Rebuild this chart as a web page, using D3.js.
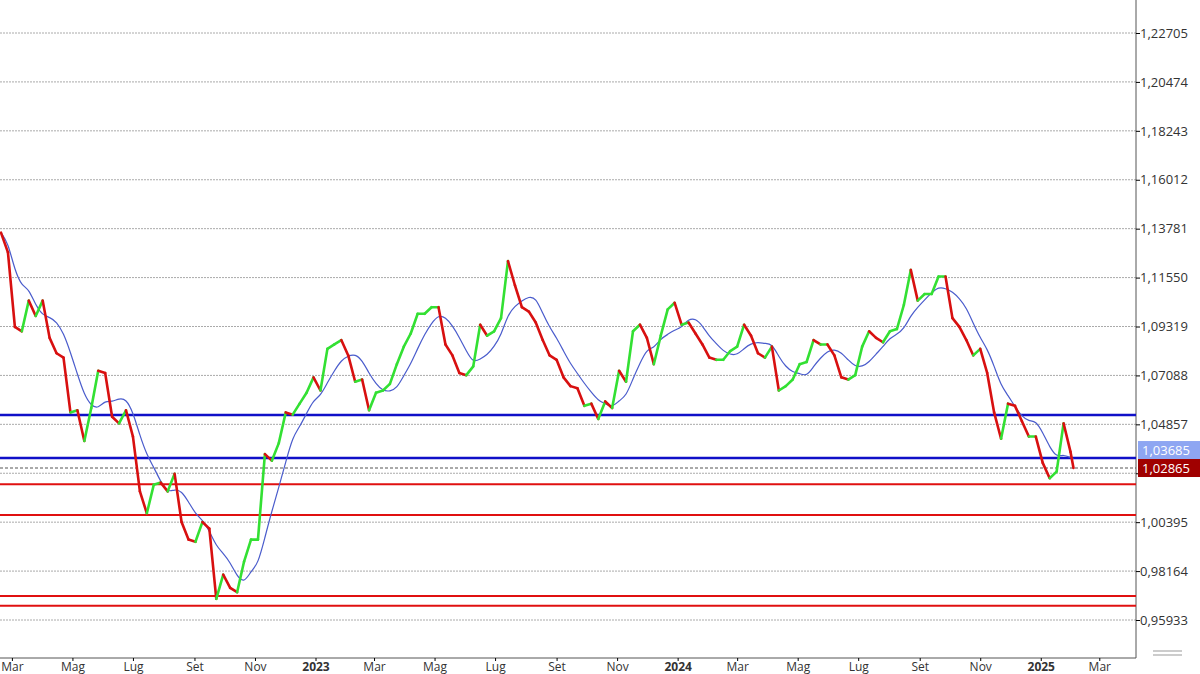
<!DOCTYPE html><html><head><meta charset="utf-8">
<script src="https://cdn.jsdelivr.net/npm/d3@7"></script>
<style>body{margin:0;background:#fff}text{font-family:"Open Sans",sans-serif}</style></head><body>
<svg id="c" width="1200" height="674"></svg>
<script>
const startDate="2022-02-18";
const closes=[1.136,1.127,1.093,1.091,1.105,1.098,1.105,1.088,1.081,1.079,1.054,1.055,1.041,1.056,1.073,1.072,1.052,1.049,1.055,1.043,1.018,1.008,1.021,1.022,1.018,1.026,1.004,0.996,0.995,1.004,1.001,0.969,0.980,0.974,0.972,0.986,0.996,0.996,1.035,1.032,1.040,1.054,1.053,1.058,1.063,1.070,
1.064,1.083,1.085,1.087,1.080,1.068,1.069,1.055,1.063,1.064,1.067,1.076,1.084,1.090,1.099,1.099,1.102,1.102,1.085,1.080,1.072,1.071,1.075,1.094,1.089,1.091,1.097,1.123,1.112,1.102,1.100,1.095,1.087,1.080,1.078,1.070,1.066,1.065,1.057,1.058,1.051,1.059,1.056,1.073,1.068,1.091,1.094,1.088,1.076,1.089,1.101,1.104,
1.094,1.095,1.090,1.085,1.079,1.078,1.078,1.082,1.084,1.094,1.089,1.081,1.079,1.084,1.064,1.066,1.069,1.076,1.077,1.087,1.085,1.085,1.080,1.070,1.069,1.071,1.084,1.091,1.088,1.086,1.091,1.092,1.103,1.119,1.105,1.108,1.108,1.116,1.116,1.097,1.093,1.087,1.080,1.083,1.072,1.054,1.042,1.058,1.057,1.050,1.043,1.043,
1.031,1.024,1.027,1.049,1.036,1.02865];
const yTicks=[0.95933,0.98164,1.00395,1.02626,1.04857,1.07088,1.09319,1.11550,1.13781,1.16012,1.18243,1.20474,1.22705];
const xTicks=[["2022-03-01","Mar"],["2022-05-01","Mag"],["2022-07-01","Lug"],["2022-09-01","Set"],["2022-11-01","Nov"],["2023-01-01","2023"],["2023-03-01","Mar"],["2023-05-01","Mag"],["2023-07-01","Lug"],["2023-09-01","Set"],["2023-11-01","Nov"],["2024-01-01","2024"],["2024-03-01","Mar"],["2024-05-01","Mag"],["2024-07-01","Lug"],["2024-09-01","Set"],["2024-11-01","Nov"],["2025-01-01","2025"],["2025-03-01","Mar"]];
const blueLevels=[1.0528,1.0332];
const redLevels=[1.0213,1.0072,0.9703,0.9658];
const maLabel=1.03685, lastLabel=1.02865;

const svg=d3.select("#c");
const W=1136,H=658;
const t0=d3.isoParse(startDate);
const data=closes.map((v,i)=>({d:d3.timeDay.offset(t0,i*7),v}));
data[data.length-1].d=d3.isoParse("2025-02-03");
const x=d3.scaleTime().domain([d3.isoParse("2022-02-17"),d3.isoParse("2025-04-07")]).range([0,W]);
const y=d3.scaleLinear().domain([0.95933,1.22705]).range([620,33]);
svg.append("g").selectAll("line").data(yTicks).join("line").attr("x1",0).attr("x2",W).attr("y1",d=>y(d)).attr("y2",d=>y(d)).attr("stroke","#aaa").attr("stroke-dasharray","2,1");
const fmt=d=>d3.format(".5f")(d).replace(".",",");
const ya=svg.append("g").attr("transform",`translate(${W},0)`).call(d3.axisRight(y).tickValues(yTicks).tickSize(4).tickFormat(d=>Math.abs(d-1.02626)<1e-6?"":fmt(d)));
ya.select(".domain").attr("d",`M0,0V${H}`).attr("stroke","#555");
ya.selectAll("text").attr("font-size",13).attr("fill","#333").attr("x",4);
const xa=svg.append("g").attr("transform",`translate(0,${H})`).call(d3.axisBottom(x).tickValues(xTicks.map(d=>d3.isoParse(d[0]))).tickSize(3).tickFormat((d,i)=>xTicks[i][1]));
xa.select(".domain").attr("d",`M0,0H${W}`).attr("stroke","#555");
xa.selectAll("text").attr("font-size",12).attr("fill","#333").attr("y",4).attr("dy","0.71em").attr("font-weight",(d,i)=>/^\d/.test(xTicks[i][1])?"bold":"normal");
svg.append("g").selectAll("line").data(redLevels).join("line").attr("x1",0).attr("x2",W).attr("y1",d=>y(d)).attr("y2",d=>y(d)).attr("stroke","#e01010").attr("stroke-width",2);
svg.append("g").selectAll("line").data(blueLevels).join("line").attr("x1",0).attr("x2",W).attr("y1",d=>y(d)).attr("y2",d=>y(d)).attr("stroke","#1010c8").attr("stroke-width",2.5);
svg.append("line").attr("x1",0).attr("x2",W).attr("y1",y(lastLabel)).attr("y2",y(lastLabel)).attr("stroke","#555").attr("stroke-dasharray","3,2");
const win=5;
const ma=data.map((p,i)=>{const s=data.slice(Math.max(0,i-win+1),i+1);return {d:p.d,v:d3.mean(s,q=>q.v)};});
svg.append("path").datum(ma).attr("fill","none").attr("stroke","#4a5ccc").attr("stroke-width",1.2).attr("d",d3.line().x(d=>x(d.d)).y(d=>y(d.v)).curve(d3.curveBasis));
const segs=d3.pairs(data);
svg.append("g").selectAll("line").data(segs).join("line").attr("x1",d=>x(d[0].d)).attr("y1",d=>y(d[0].v)).attr("x2",d=>x(d[1].d)).attr("y2",d=>y(d[1].v))
 .attr("stroke",d=>d[1].v>=d[0].v?"#33e033":"#d81010").attr("stroke-width",2.6).attr("stroke-linecap","round");
[[maLabel,"#8ea6f2"],[lastLabel,"#a00000"]].forEach(([v,c])=>{
 svg.append("rect").attr("x",W+2).attr("y",y(v)-9).attr("width",62).attr("height",18).attr("fill",c);
 svg.append("text").attr("x",W+6).attr("y",y(v)+5).attr("font-size",13).attr("fill","#fff").text(fmt(v));
});
svg.append("g").selectAll("line").data([651,655]).join("line").attr("x1",1153).attr("x2",1182).attr("y1",d=>d).attr("y2",d=>d).attr("stroke","#999");
</script></body></html>
